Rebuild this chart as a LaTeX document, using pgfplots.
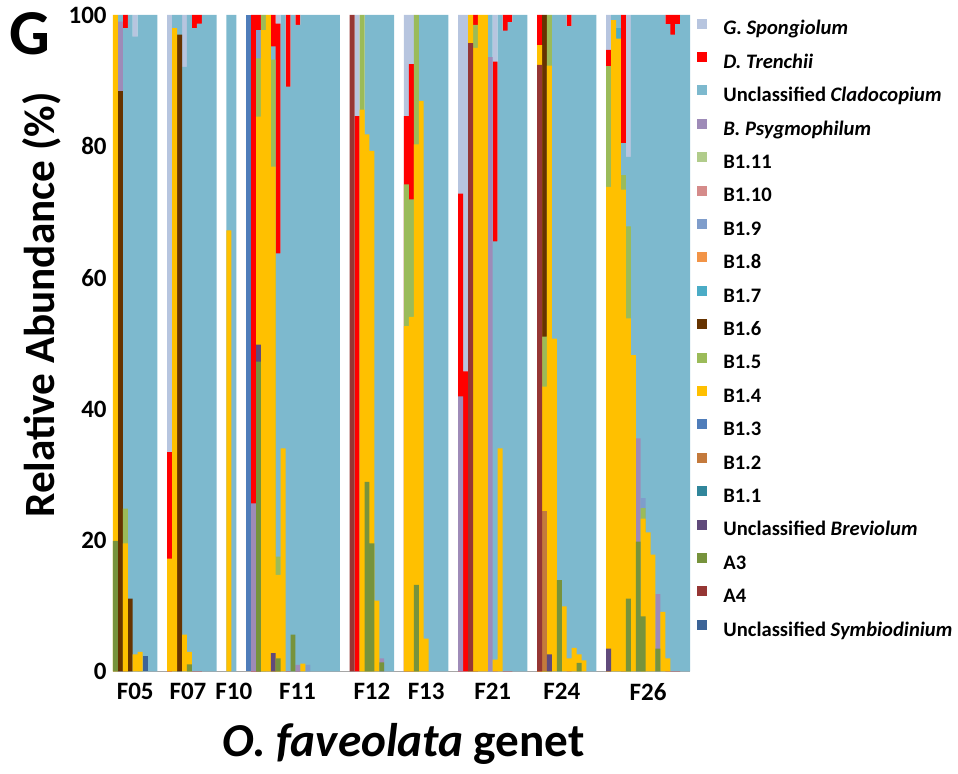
\documentclass[border=0pt]{standalone}
\usepackage{pgfplots}
\pgfplotsset{compat=1.18}
\usepackage{fontspec}
\setmainfont{Carlito}

\definecolor{cGS}{HTML}{B7C5DF}
\definecolor{cDT}{HTML}{FF0000}
\definecolor{cCL}{HTML}{7DB9CE}
\definecolor{cBP}{HTML}{9E8BB8}
\definecolor{cB11}{HTML}{B1CC8B}
\definecolor{cB10}{HTML}{D58B8A}
\definecolor{cB9}{HTML}{7F9DCB}
\definecolor{cB8}{HTML}{F29447}
\definecolor{cB7}{HTML}{4BACC6}
\definecolor{cB6}{HTML}{663300}
\definecolor{cB5}{HTML}{9BBB59}
\definecolor{cB4}{HTML}{FFC000}
\definecolor{cB3}{HTML}{4F7DBA}
\definecolor{cB2}{HTML}{C47A3C}
\definecolor{cB1}{HTML}{31869B}
\definecolor{cUB}{HTML}{604A7B}
\definecolor{cA3}{HTML}{77933C}
\definecolor{cA4}{HTML}{963634}
\definecolor{cUS}{HTML}{3C6497}

% each series is drawn from 0 up to the top of its segment, top series first
\pgfplotsset{seg/.style={ybar, bar width=1, bar shift=0pt, draw=none, fill=#1,
  legend image code/.code={\fill[##1] (0pt,0.6pt) rectangle (5pt,5.6pt);}}}

\begin{document}
\begin{tikzpicture}
\path[use as bounding box] (-56.5pt,-51.25pt) rectangle (422.5pt,335.75pt);
\begin{axis}[
  at={(0pt,0pt)}, anchor=south west,
  scale only axis, width=288.5pt, height=328.25pt,
  xmin=-0.5, xmax=116.5, ymin=0, ymax=100,
  axis x line=bottom, axis y line=left,
  axis line style={-},
  x axis line style={draw=black!35, line width=0.8pt},
  y axis line style={draw=none},
  major tick length=0pt,
  xtick={4,14.7,24,36.9,52,63,76.5,90.5,108},
  xticklabels={F05,F07,F10,F11,F12,F13,F21,F24,F26},
  ytick={0,20,40,60,80,100},
  /pgf/number format/assume math mode=true,
  tick label style={font=\bfseries\fontsize{12.5}{14}\selectfont, inner sep=0pt},
  xticklabel style={yshift=-5.75pt},
  yticklabel style={xshift=-3pt},
  legend cell align=left,
  legend style={at={(1.0121,0.995)}, anchor=north west, draw=none, fill=none,
    inner sep=0pt, row sep=6.6pt, column sep=8pt,
    font=\bfseries\fontsize{10.3}{12}\selectfont,
    nodes={inner sep=0pt, text height=7pt, text depth=2pt}},
]
\addplot[seg=cGS] coordinates {(4,100) (11,100) (14,100) (33,100) (49,100) (59,100) (60,100) (70,100) (71,100) (77,100) (100,100) (104,100)};
\addlegendentry{\textit{G. Spongiolum}}
\addplot[seg=cDT] coordinates {(2,100) (11,33.4) (16,100) (17,100) (28,100) (29,100) (32,100) (33,98.7) (35,100) (37,100) (49,84.6) (59,84.6) (60,92.5) (70,72.8) (71,45.7) (73,100) (77,92.9) (79,100) (80,100) (86,100) (92,100) (100,94.7) (103,100) (112,100) (113,100) (114,100)};
\addlegendentry{\textit{D. Trenchii}}
\addplot[seg=cCL] coordinates {(1,100) (2,98) (3,100) (4,96.7) (5,100) (6,100) (7,100) (8,100) (12,100) (13,100) (14,92.1) (15,100) (16,98) (17,98.7) (18,100) (19,100) (20,100) (23,100) (24,100) (32,95.2) (33,63.7) (34,100) (35,89.1) (36,100) (37,98.5) (38,100) (39,100) (40,100) (41,100) (42,100) (43,100) (44,100) (45,100) (51,100) (52,100) (53,100) (54,100) (55,100) (56,100) (62,100) (63,100) (64,100) (65,100) (66,100) (67,100) (76,100) (77,65.5) (78,100) (79,97.6) (80,98.9) (81,100) (82,100) (83,100) (89,100) (90,100) (91,100) (92,98.3) (93,100) (94,100) (95,100) (96,100) (97,100) (101,100) (102,100) (103,80.5) (104,78.4) (105,100) (106,100) (107,100) (108,100) (109,100) (110,100) (111,100) (112,98.6) (113,97.0) (114,98.6) (115,100) (116,100)};
\addlegendentry{Unclassified \textit{Cladocopium}}
\addplot[seg=cBP] coordinates {(1,99) (28,25.6) (37,1.0) (54,2.0) (70,41.9) (76,93.6) (106,35.5) (110,11.8)};
\addlegendentry{\textit{B. Psygmophilum}}
\addlegendimage{seg=cB11}
\addlegendentry{B1.11}
\addlegendimage{seg=cB10}
\addlegendentry{B1.10}
\addplot[seg=cB9] coordinates {(29,97.7) (39,1.0) (107,26.4)};
\addlegendentry{B1.9}
\addlegendimage{seg=cB8}
\addlegendentry{B1.8}
\addplot[seg=cB7] coordinates {(102,98.0)};
\addlegendentry{B1.7}
\addplot[seg=cB6] coordinates {(1,88.4) (3,11.1) (13,97) (87,100)};
\addlegendentry{B1.6}
\addplot[seg=cB5] coordinates {(2,24.8) (29,93.4) (30,100) (32,93.2) (33,17.5) (50,100) (59,74.2) (60,71.9) (61,100) (73,98.5) (87,51.0) (88,100) (100,92.2) (103,75.6) (104,67.8) (107,24.9)};
\addlegendentry{B1.5}
\addplot[seg=cB4] coordinates {(0,100) (2,19.5) (4,2.6) (5,3.0) (11,17.2) (12,98) (14,5.6) (15,3.0) (23,67.2) (29,84.5) (30,97.7) (31,100) (32,76.9) (33,14.7) (34,34.0) (38,1.2) (50,85.6) (51,81.8) (52,79.3) (53,10.8) (59,52.6) (60,54.0) (61,80.3) (62,86.9) (63,5.0) (72,100) (73,95.0) (74,100) (75,100) (77,1.8) (78,34.0) (86,95.4) (87,43.4) (88,92.3) (89,50.7) (91,9.9) (92,2.0) (93,3.6) (94,2.6) (95,1.7) (100,73.8) (101,99.2) (102,96.4) (103,73.4) (104,53.8) (105,48.2) (107,23.3) (108,21.2) (109,17.8) (111,9.1) (112,2.0)};
\addlegendentry{B1.4}
\addplot[seg=cB3] coordinates {(27,100)};
\addlegendentry{B1.3}
\addplot[seg=cB2] coordinates {(87,24.5)};
\addlegendentry{B1.2}
\addlegendimage{seg=cB1}
\addlegendentry{B1.1}
\addplot[seg=cUB] coordinates {(29,49.8) (32,2.8) (88,2.6) (100,3.5)};
\addlegendentry{Unclassified \textit{Breviolum}}
\addplot[seg=cA3] coordinates {(0,19.9) (15,1.1) (29,47.2) (33,2.0) (36,5.6) (51,28.9) (52,19.5) (54,1.4) (61,13.2) (90,13.9) (94,1.3) (104,11.1) (106,19.8) (107,8.4) (110,3.5)};
\addlegendentry{A3}
\addplot[seg=cA4] coordinates {(48,100) (72,95.7) (86,92.4)};
\addlegendentry{A4}
\addplot[seg=cUS] coordinates {(6,2.3)};
\addlegendentry{Unclassified \textit{Symbiodinium}}
\end{axis}
\node[anchor=north west, inner sep=0pt, font=\bfseries\fontsize{32}{32}\selectfont] at (-52pt,329.75pt) {G};
\node[rotate=90, inner sep=0pt, font=\bfseries\fontsize{21.6}{24}\selectfont] at (-35.5pt,183.25pt) {Relative Abundance (\%)};
\node[anchor=base, inner sep=0pt, font=\bfseries\fontsize{23.6}{26}\selectfont] at (145.25pt,-42.75pt) {\textit{O. faveolata} genet};
\end{tikzpicture}
\end{document}
